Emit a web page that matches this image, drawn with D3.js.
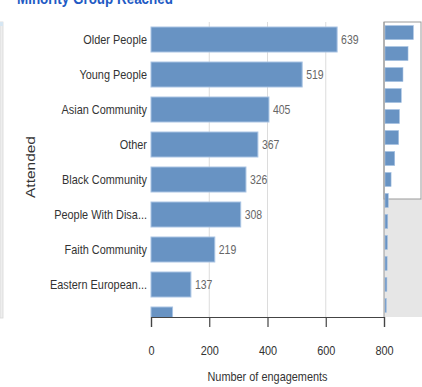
<!DOCTYPE html>
<html>
<head>
<meta charset="utf-8">
<script src="https://cdn.jsdelivr.net/npm/d3@7/dist/d3.min.js"></script>
<style>
  html, body { margin: 0; padding: 0; background: #fff; }
  svg { display: block; font-family: "Liberation Sans", Arial, sans-serif; }
</style>
</head>
<body>
<svg id="chart" width="422" height="387"></svg>
<script>
// ---- data ----
const categories = [
  "Older People", "Young People", "Asian Community", "Other", "Black Community",
  "People With Disabilities", "Faith Community", "Eastern European Community",
  "Travelling Community", "Refugees", "LGBT Community", "Carers",
  "Asylum Seekers", "Gypsy and Roma"
];
const values = [639, 519, 405, 367, 326, 308, 219, 137, 74, 62, 55, 48, 43, 30];
const xTicks = [0, 200, 400, 600, 800];
const titleText = "Minority Group Reached";
const yTitle = "Attended";
const xTitle = "Number of engagements";

const data = categories.map((c, i) => ({ cat: c, val: values[i] }));

const svg = d3.select("#chart");
const SQ = 0.84; // horizontal squeeze of glyphs

// layout
const plot = { left: 151, right: 384, top: 22, bottom: 317 };
const rowStep = 35;
const mini = { left: 385, right: 420.5, top: 22, bottom: 316 };

const x = d3.scaleLinear().domain([0, 800]).range([plot.left, plot.right]);
const y = d3.scaleBand().domain(categories)
  .range([plot.top, plot.top + rowStep * categories.length])
  .paddingInner(0.286).paddingOuter(0.143);

function trunc(s) { return s.length > 17 ? s.slice(0, 16).replace(/\s+$/, "") + "..." : s; }

// title (cut off at top)
svg.append("text")
  .attr("transform", "translate(17,4) scale(" + SQ + ",1)")
  .attr("font-size", 16).attr("font-weight", "bold").attr("fill", "#1f5bc4")
  .text(titleText);

// left frame remnant
svg.append("rect").attr("x", 0).attr("y", 22).attr("width", 3).attr("height", 296)
  .attr("fill", "#eeeeee").attr("stroke", "#d8d8d8").attr("stroke-width", 0.8);
svg.append("rect").attr("x", 0).attr("y", 22).attr("width", 3).attr("height", 4)
  .attr("fill", "#d6e6f2");

// clips for scrolling main area
const defs = svg.append("defs");
defs.append("clipPath").attr("id", "clipMain")
  .append("rect").attr("x", 0).attr("y", plot.top)
  .attr("width", plot.right + 1).attr("height", plot.bottom - plot.top);
defs.append("clipPath").attr("id", "clipText")
  .append("rect").attr("x", 0).attr("y", plot.top)
  .attr("width", plot.right + 40).attr("height", 290);

// gridlines
svg.append("g").selectAll("line").data(xTicks.filter(t => t > 0 && t < 800)).join("line")
  .attr("x1", d => x(d)).attr("x2", d => x(d))
  .attr("y1", plot.top).attr("y2", plot.bottom)
  .attr("stroke", "#dcdcdc").attr("stroke-width", 1);

const main = svg.append("g").attr("clip-path", "url(#clipMain)");
const mainText = svg.append("g").attr("clip-path", "url(#clipText)");

main.selectAll("rect.bar").data(data).join("rect").attr("class", "bar")
  .attr("x", x(0)).attr("y", d => y(d.cat))
  .attr("width", d => x(d.val) - x(0)).attr("height", y.bandwidth())
  .attr("fill", "#6893c3").attr("stroke", "#a8c3e3").attr("stroke-width", 1);

mainText.selectAll("text.val").data(data).join("text").attr("class", "val")
  .attr("transform", d => "translate(" + (x(d.val) + 4) + "," + (y(d.cat) + y.bandwidth() / 2 + 4.5) + ") scale(" + SQ + ",1)")
  .attr("font-size", 12.5).attr("fill", "#666").text(d => d.val);

mainText.selectAll("text.cat").data(data).join("text").attr("class", "cat")
  .attr("transform", d => "translate(147," + (y(d.cat) + y.bandwidth() / 2 + 4.5) + ") scale(" + SQ + ",1)")
  .attr("text-anchor", "end").attr("font-size", 13).attr("fill", "#333")
  .text(d => trunc(d.cat));

// x axis
const xAxis = svg.append("g").attr("transform", "translate(0," + plot.bottom + ")")
  .call(d3.axisBottom(x).tickValues(xTicks).tickSize(10).tickPadding(14).tickFormat(d3.format("d")));
xAxis.select(".domain").attr("stroke", "#444").attr("stroke-width", 1.2);
xAxis.selectAll(".tick line").attr("stroke", "#444").attr("stroke-width", 1.2);
xAxis.selectAll(".tick text")
  .attr("font-size", 13).attr("fill", "#333")
  .attr("font-family", "Liberation Sans, Arial, sans-serif")
  .attr("y", null).attr("dy", null)
  .attr("transform", "translate(0,38) scale(" + SQ + ",1)");

// axis titles
svg.append("text")
  .attr("transform", "translate(" + ((plot.left + plot.right) / 2) + ",381) scale(" + SQ + ",1)")
  .attr("text-anchor", "middle").attr("font-size", 13).attr("fill", "#333").text(xTitle);

svg.append("text")
  .attr("transform", "translate(35,167) rotate(-90) scale(1," + SQ + ")")
  .attr("text-anchor", "middle").attr("font-size", 15.5).attr("fill", "#333").text(yTitle);

// ---- mini map (scroll navigator) ----
const mx = d3.scaleLinear().domain([0, 800]).range([mini.left, mini.right]);
const my = d3.scaleBand().domain(categories).range([mini.top, mini.bottom])
  .paddingInner(0.33).paddingOuter(0.17);
const visibleFrac = (plot.bottom - plot.top) / (rowStep * categories.length);
const selBottom = mini.top + (mini.bottom - mini.top) * visibleFrac;

svg.append("rect").attr("x", 384).attr("y", selBottom).attr("width", 38)
  .attr("height", mini.bottom - selBottom + 1).attr("fill", "#e6e6e6");
svg.append("rect").attr("x", 384).attr("y", mini.top).attr("width", 37)
  .attr("height", selBottom - mini.top).attr("fill", "#fff")
  .attr("stroke", "#9a9a9a").attr("stroke-width", 1);

svg.append("g").selectAll("rect").data(data).join("rect")
  .attr("x", mx(0)).attr("y", d => my(d.cat))
  .attr("width", d => Math.max(1, mx(d.val) - mx(0))).attr("height", my.bandwidth())
  .attr("fill", "#6893c3").attr("stroke", "#a8c3e3").attr("stroke-width", 0.6);

svg.append("line").attr("x1", 384).attr("x2", 384).attr("y1", mini.top).attr("y2", plot.bottom)
  .attr("stroke", "#9a9a9a").attr("stroke-width", 1);
</script>
</body>
</html>
